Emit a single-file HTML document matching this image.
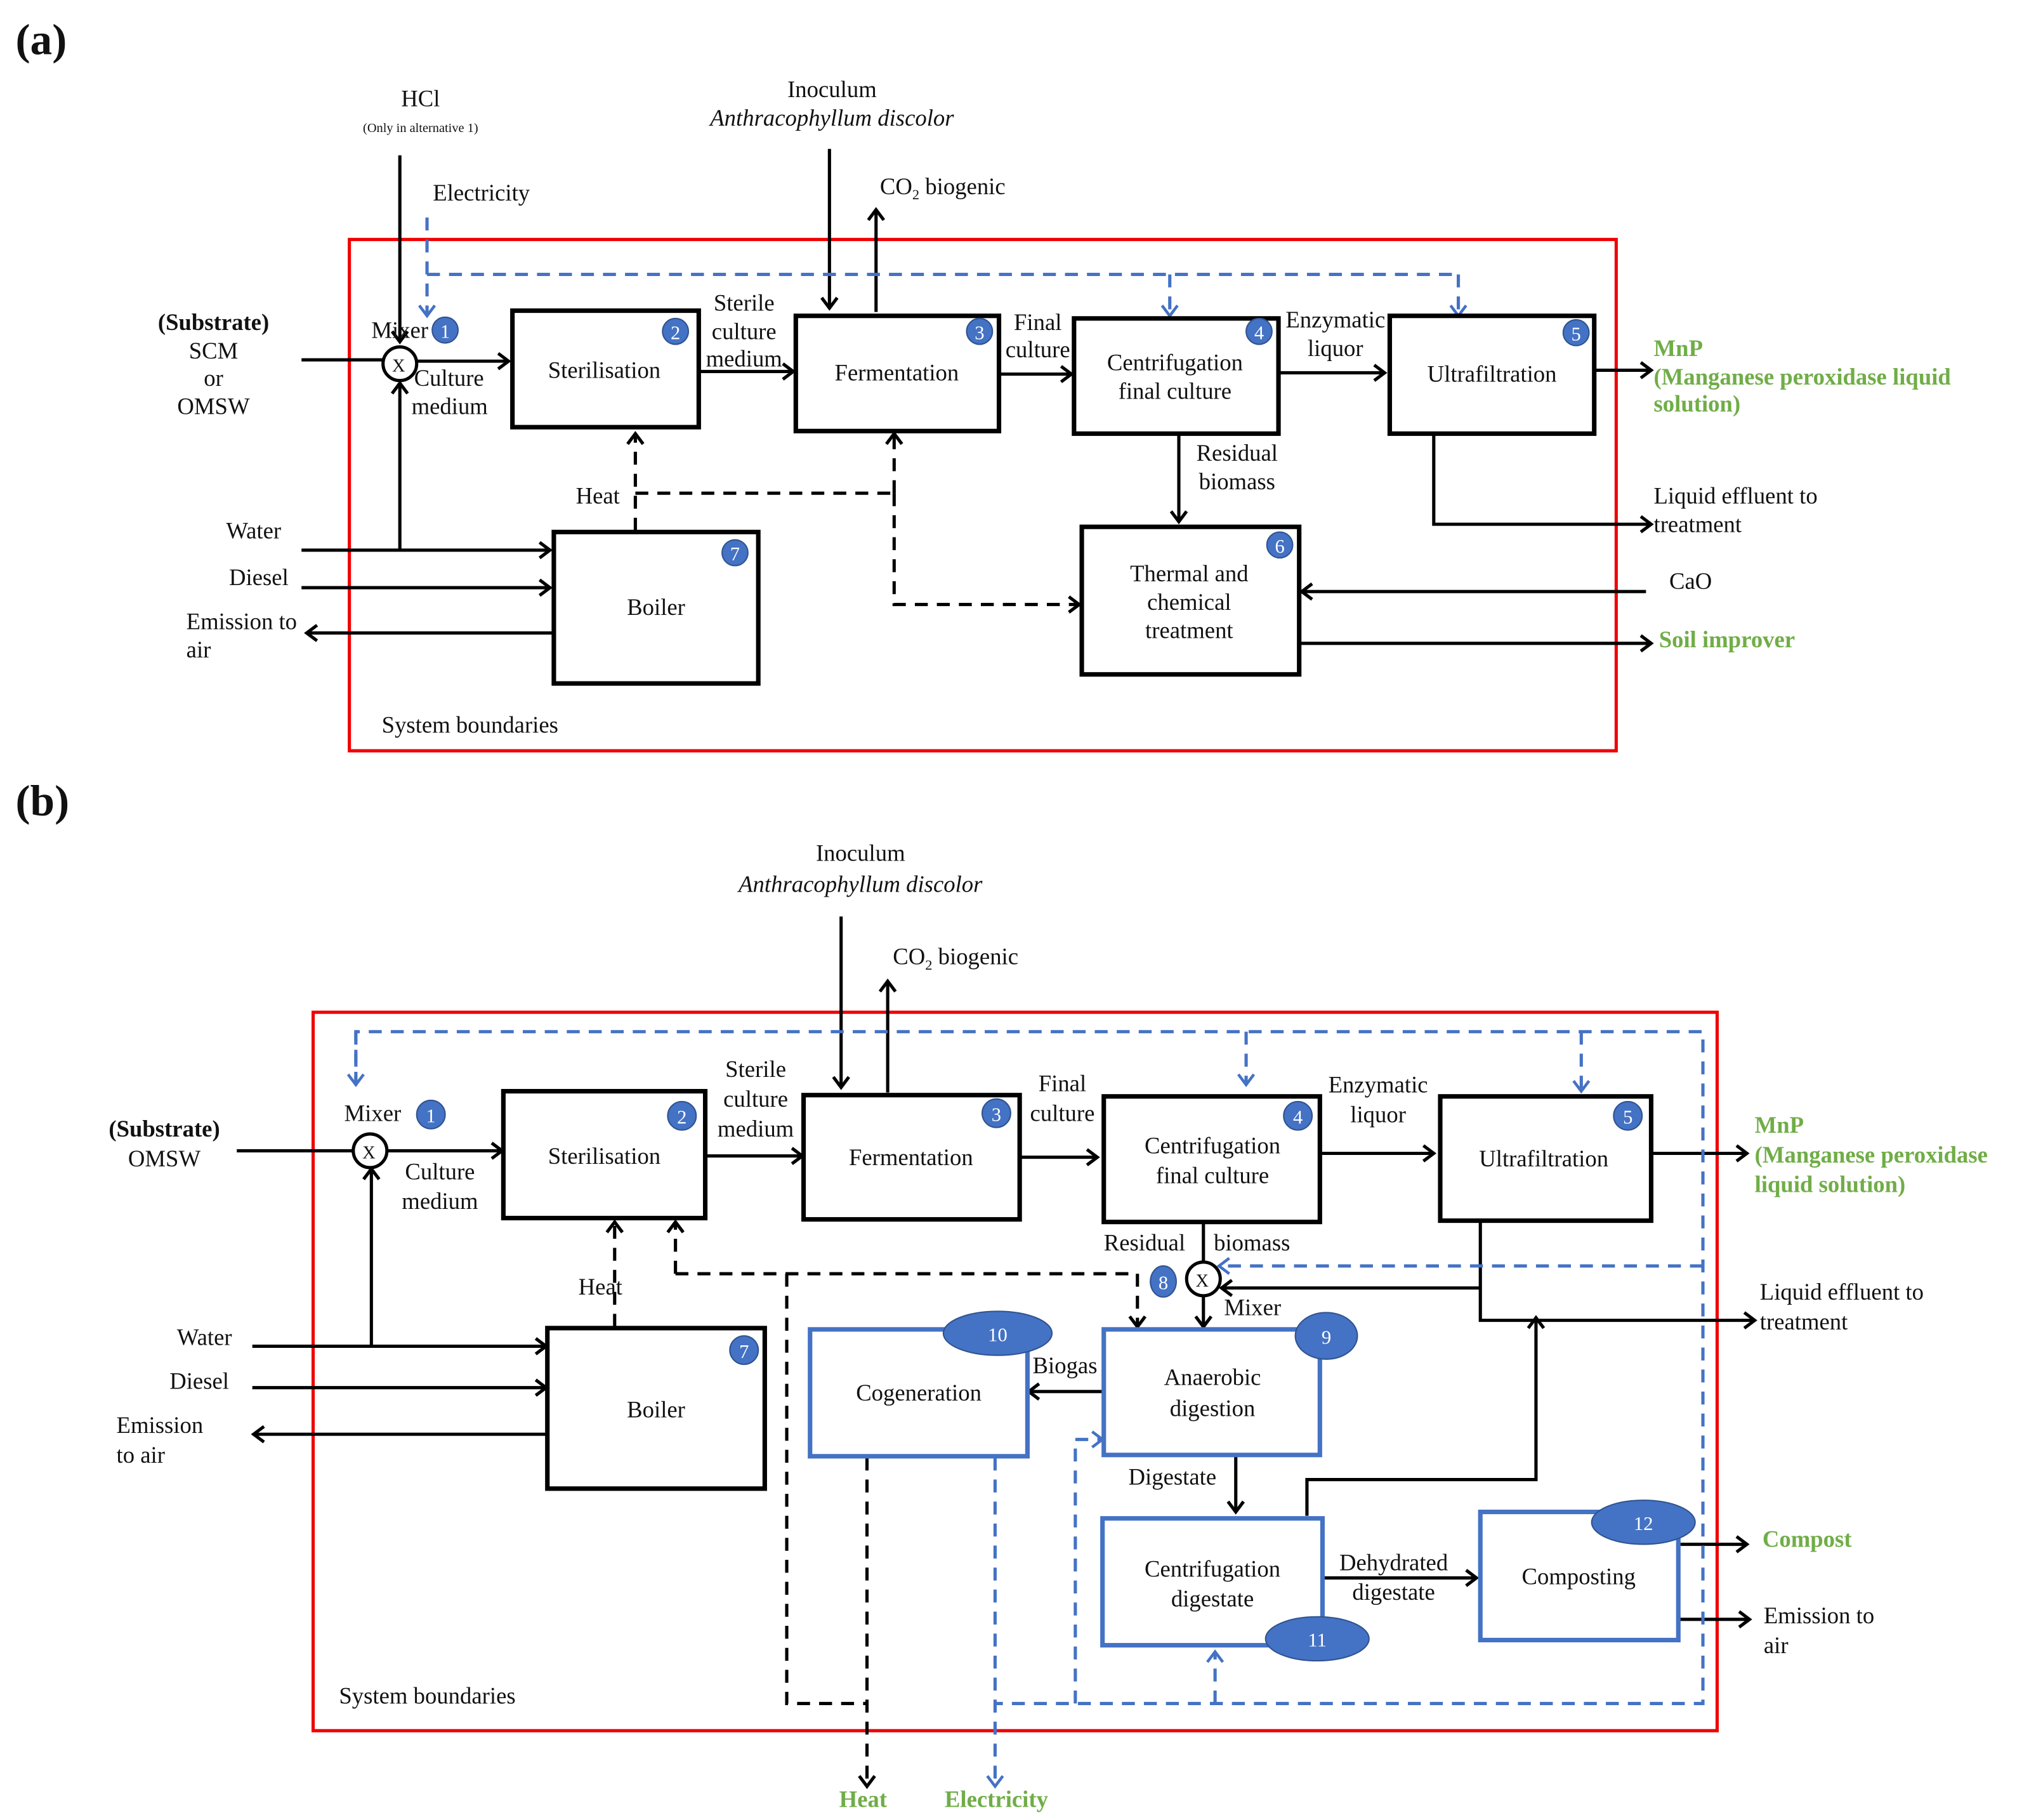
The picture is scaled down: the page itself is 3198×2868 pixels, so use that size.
<!DOCTYPE html>
<html><head><meta charset="utf-8"><style>
html,body{margin:0;padding:0;background:#fff;}
svg{display:block;}
text{font-family:"Liberation Serif",serif;font-size:18px;fill:#111;}
.c{text-anchor:middle;}
.g{fill:#70AD47;font-weight:bold;}
.bt{fill:#fff;font-size:15px;text-anchor:middle;}
</style></head><body>
<svg width="3198" height="2868" viewBox="0 0 1568 1406" preserveAspectRatio="none" xmlns="http://www.w3.org/2000/svg">
<defs>
<marker id="a" markerUnits="userSpaceOnUse" markerWidth="16" markerHeight="16" refX="11" refY="8" orient="auto"><path d="M3,2 L11,8 L3,14" fill="none" stroke="#000" stroke-width="2.5"/></marker>
<marker id="b" markerUnits="userSpaceOnUse" markerWidth="16" markerHeight="16" refX="11" refY="8" orient="auto"><path d="M3,2 L11,8 L3,14" fill="none" stroke="#4472C4" stroke-width="2.2"/></marker>
</defs>
<g fill="none" stroke="#000" stroke-width="2.5">
<!-- ===== (a) ===== -->
<rect x="270" y="185" width="979" height="395" stroke="#f00000" stroke-width="2.5"/>
<line x1="309" y1="120" x2="309" y2="264" marker-end="url(#a)"/>
<line x1="641" y1="115" x2="641" y2="238" marker-end="url(#a)"/>
<line x1="677" y1="241" x2="677" y2="162" marker-end="url(#a)"/>
<line x1="233" y1="278" x2="296" y2="278"/>
<circle cx="309" cy="281" r="13" fill="#fff"/>
<line x1="322" y1="279" x2="393" y2="279" marker-end="url(#a)"/>
<line x1="540" y1="287" x2="613" y2="287" marker-end="url(#a)"/>
<line x1="772" y1="289" x2="828" y2="289" marker-end="url(#a)"/>
<line x1="988" y1="288" x2="1070" y2="288" marker-end="url(#a)"/>
<line x1="1232" y1="286" x2="1276" y2="286" marker-end="url(#a)"/>
<line x1="911" y1="335" x2="911" y2="403" marker-end="url(#a)"/>
<polyline points="1108,335 1108,405 1276,405" marker-end="url(#a)"/>
<line x1="1272" y1="457" x2="1006" y2="457" marker-end="url(#a)"/>
<line x1="1004" y1="497" x2="1276" y2="497" marker-end="url(#a)"/>
<line x1="233" y1="425" x2="425" y2="425" marker-end="url(#a)"/>
<line x1="309" y1="425" x2="309" y2="296" marker-end="url(#a)"/>
<line x1="233" y1="454" x2="425" y2="454" marker-end="url(#a)"/>
<line x1="427" y1="489" x2="237" y2="489" marker-end="url(#a)"/>
<g stroke-dasharray="10,7">
<line x1="491" y1="410" x2="491" y2="335" marker-end="url(#a)"/>
<line x1="491" y1="381" x2="691" y2="381"/>
<line x1="691" y1="381" x2="691" y2="335" marker-end="url(#a)"/>
<polyline points="691,381 691,467 834,467" marker-end="url(#a)"/>
</g>
<g stroke="#4472C4" stroke-dasharray="10,7">
<polyline points="330,168 330,244" marker-end="url(#b)"/>
<line x1="330" y1="212" x2="1127" y2="212"/>
<line x1="904" y1="212" x2="904" y2="244" marker-end="url(#b)"/>
<line x1="1127" y1="212" x2="1127" y2="244" marker-end="url(#b)"/>
</g>
<g stroke-width="3.5">
<rect x="396" y="240" width="144" height="90"/>
<rect x="615" y="244" width="157" height="89"/>
<rect x="830" y="246" width="158" height="89"/>
<rect x="1074" y="244" width="158" height="91"/>
<rect x="836" y="407" width="168" height="114"/>
<rect x="428" y="411" width="158" height="117"/>
</g>
<!-- ===== (b) ===== -->
<rect x="242" y="782" width="1085" height="555" stroke="#f00000" stroke-width="2.5"/>
<line x1="650" y1="708" x2="650" y2="840" marker-end="url(#a)"/>
<line x1="686" y1="844" x2="686" y2="758" marker-end="url(#a)"/>
<line x1="183" y1="889" x2="273" y2="889"/>
<circle cx="286" cy="889" r="13"/>
<line x1="299" y1="889" x2="388" y2="889" marker-end="url(#a)"/>
<line x1="545" y1="893" x2="620" y2="893" marker-end="url(#a)"/>
<line x1="788" y1="894" x2="848" y2="894" marker-end="url(#a)"/>
<line x1="1020" y1="891" x2="1108" y2="891" marker-end="url(#a)"/>
<line x1="1276" y1="891" x2="1350" y2="891" marker-end="url(#a)"/>
<line x1="930" y1="944" x2="930" y2="975"/>
<circle cx="930" cy="988" r="13"/>
<line x1="930" y1="1001" x2="930" y2="1025" marker-end="url(#a)"/>
<polyline points="1144,943 1144,1020 1356,1020" marker-end="url(#a)"/>
<line x1="1144" y1="995" x2="944" y2="995" marker-end="url(#a)"/>
<polyline points="1010,1171 1010,1143 1187,1143 1187,1018" marker-end="url(#a)"/>
<line x1="853" y1="1075" x2="795" y2="1075" marker-end="url(#a)"/>
<line x1="955" y1="1125" x2="955" y2="1168" marker-end="url(#a)"/>
<line x1="1022" y1="1219" x2="1141" y2="1219" marker-end="url(#a)"/>
<line x1="1297" y1="1193" x2="1350" y2="1193" marker-end="url(#a)"/>
<line x1="1297" y1="1251" x2="1352" y2="1251" marker-end="url(#a)"/>
<line x1="195" y1="1040" x2="422" y2="1040" marker-end="url(#a)"/>
<line x1="287" y1="1040" x2="287" y2="903" marker-end="url(#a)"/>
<line x1="195" y1="1072" x2="422" y2="1072" marker-end="url(#a)"/>
<line x1="423" y1="1108" x2="196" y2="1108" marker-end="url(#a)"/>
<g stroke-dasharray="10,7">
<line x1="475" y1="1025" x2="475" y2="944" marker-end="url(#a)"/>
<line x1="522" y1="984" x2="879" y2="984"/>
<line x1="879" y1="984" x2="879" y2="1025" marker-end="url(#a)"/>
<line x1="522" y1="984" x2="522" y2="944" marker-end="url(#a)"/>
<polyline points="608,984 608,1316 670,1316"/>
<line x1="670" y1="1126" x2="670" y2="1380" marker-end="url(#a)"/>
</g>
<g stroke="#4472C4" stroke-dasharray="10,7">
<polyline points="275,838 275,797 1316,797 1316,1316 770,1316"/>
<line x1="275" y1="797" x2="275" y2="838" marker-end="url(#b)"/>
<line x1="963" y1="797" x2="963" y2="838" marker-end="url(#b)"/>
<line x1="1222" y1="797" x2="1222" y2="843" marker-end="url(#b)"/>
<line x1="1316" y1="978" x2="942" y2="978" marker-end="url(#b)"/>
<polyline points="831,1316 831,1112 852,1112" marker-end="url(#b)"/>
<line x1="939" y1="1316" x2="939" y2="1276" marker-end="url(#b)"/>
<line x1="769" y1="1126" x2="769" y2="1380" marker-end="url(#b)"/>
</g>
<g stroke-width="3.5">
<rect x="389" y="843" width="156" height="98"/>
<rect x="621" y="846" width="167" height="96"/>
<rect x="853" y="847" width="167" height="97"/>
<rect x="1113" y="847" width="163" height="96"/>
<rect x="423" y="1026" width="168" height="124"/>
</g>
<g stroke="#4472C4" stroke-width="3.5">
<rect x="626" y="1027" width="168" height="98"/>
<rect x="853" y="1027" width="167" height="97"/>
<rect x="852" y="1173" width="170" height="98"/>
<rect x="1144" y="1168" width="153" height="99"/>
</g>
</g>
<!-- badges -->
<g fill="#4472C4" stroke="#2f528f" stroke-width="1">
<circle cx="344" cy="255" r="10"/><circle cx="522" cy="256" r="10"/><circle cx="757" cy="256" r="10"/>
<circle cx="973" cy="256" r="10"/><circle cx="1218" cy="257" r="10"/><circle cx="989" cy="421" r="10"/><circle cx="568" cy="427" r="10"/>
<circle cx="333" cy="861" r="11"/><circle cx="527" cy="862" r="11"/><circle cx="770" cy="860" r="11"/>
<circle cx="1003" cy="862" r="11"/><circle cx="1258" cy="862" r="11"/><circle cx="575" cy="1043" r="11"/>
<ellipse cx="899" cy="990" rx="10" ry="12"/>
<ellipse cx="1025" cy="1032" rx="24" ry="18"/>
<ellipse cx="771" cy="1030" rx="42" ry="17"/>
<ellipse cx="1018" cy="1266" rx="40" ry="17"/>
<ellipse cx="1270" cy="1176" rx="40" ry="17"/>
</g>
<g class="bt">
<text x="344" y="261" class="bt">1</text><text x="522" y="262" class="bt">2</text><text x="757" y="262" class="bt">3</text>
<text x="973" y="262" class="bt">4</text><text x="1218" y="263" class="bt">5</text><text x="989" y="427" class="bt">6</text><text x="568" y="433" class="bt">7</text>
<text x="333" y="867" class="bt">1</text><text x="527" y="868" class="bt">2</text><text x="770" y="866" class="bt">3</text>
<text x="1003" y="868" class="bt">4</text><text x="1258" y="868" class="bt">5</text><text x="575" y="1049" class="bt">7</text>
<text x="899" y="996" class="bt">8</text><text x="1025" y="1038" class="bt">9</text><text x="771" y="1036" class="bt">10</text>
<text x="1018" y="1272" class="bt">11</text><text x="1270" y="1182" class="bt">12</text>
</g>
<!-- text (a) -->
<text x="12" y="42" style="font-size:34px;font-weight:bold">(a)</text>
<text x="325" y="82" class="c">HCl</text>
<text x="325" y="102" class="c" style="font-size:10px">(Only in alternative  1)</text>
<text x="372" y="155" class="c">Electricity</text>
<text x="643" y="75" class="c">Inoculum</text>
<text x="643" y="97" class="c" style="font-style:italic">Anthracophyllum discolor</text>
<text x="680" y="150">CO<tspan style="font-size:11px" dy="4">2</tspan><tspan dy="-4"> biogenic</tspan></text>
<text x="165" y="255" class="c" style="font-weight:bold">(Substrate)</text>
<text x="165" y="277" class="c">SCM</text><text x="165" y="298" class="c">or</text><text x="165" y="320" class="c">OMSW</text>
<text x="287" y="261">Mixer</text>
<text x="303" y="287" style="font-size:14px">X</text>
<text x="320" y="298">Culture</text><text x="318" y="320">medium</text>
<text x="467" y="292" class="c">Sterilisation</text>
<text x="575" y="240" class="c">Sterile</text><text x="575" y="262" class="c">culture</text><text x="575" y="283" class="c">medium</text>
<text x="693" y="294" class="c">Fermentation</text>
<text x="802" y="255" class="c">Final</text><text x="802" y="276" class="c">culture</text>
<text x="908" y="286" class="c">Centrifugation</text><text x="908" y="308" class="c">final culture</text>
<text x="1032" y="253" class="c">Enzymatic</text><text x="1032" y="275" class="c">liquor</text>
<text x="1153" y="295" class="c">Ultrafiltration</text>
<text x="1278" y="275" class="g">MnP</text>
<text x="1278" y="297" class="g">(Manganese peroxidase liquid</text>
<text x="1278" y="318" class="g">solution)</text>
<text x="956" y="356" class="c">Residual</text><text x="956" y="378" class="c">biomass</text>
<text x="1278" y="389">Liquid effluent to</text><text x="1278" y="411">treatment</text>
<text x="919" y="449" class="c">Thermal and</text><text x="919" y="471" class="c">chemical</text><text x="919" y="493" class="c">treatment</text>
<text x="1290" y="455">CaO</text>
<text x="1282" y="500" class="g">Soil improver</text>
<text x="445" y="389">Heat</text>
<text x="196" y="416" class="c">Water</text>
<text x="200" y="452" class="c">Diesel</text>
<text x="144" y="486">Emission to</text><text x="144" y="508">air</text>
<text x="507" y="475" class="c">Boiler</text>
<text x="295" y="566">System boundaries</text>
<!-- text (b) -->
<text x="12" y="630" style="font-size:34px;font-weight:bold">(b)</text>
<text x="665" y="665" class="c">Inoculum</text>
<text x="665" y="689" class="c" style="font-style:italic">Anthracophyllum discolor</text>
<text x="690" y="745">CO<tspan style="font-size:11px" dy="4">2</tspan><tspan dy="-4"> biogenic</tspan></text>
<text x="127" y="878" class="c" style="font-weight:bold">(Substrate)</text>
<text x="127" y="901" class="c">OMSW</text>
<text x="266" y="866">Mixer</text>
<text x="280" y="895" style="font-size:14px">X</text>
<text x="340" y="911" class="c">Culture</text><text x="340" y="934" class="c">medium</text>
<text x="467" y="899" class="c">Sterilisation</text>
<text x="584" y="832" class="c">Sterile</text><text x="584" y="855" class="c">culture</text><text x="584" y="878" class="c">medium</text>
<text x="704" y="900" class="c">Fermentation</text>
<text x="821" y="843" class="c">Final</text><text x="821" y="866" class="c">culture</text>
<text x="937" y="891" class="c">Centrifugation</text><text x="937" y="914" class="c">final culture</text>
<text x="1065" y="844" class="c">Enzymatic</text><text x="1065" y="867" class="c">liquor</text>
<text x="1193" y="901" class="c">Ultrafiltration</text>
<text x="1356" y="875" class="g">MnP</text>
<text x="1356" y="898" class="g">(Manganese peroxidase</text>
<text x="1356" y="921" class="g">liquid  solution)</text>
<text x="853" y="966">Residual</text><text x="938" y="966">biomass</text>
<text x="924" y="994" style="font-size:14px">X</text>
<text x="946" y="1016">Mixer</text>
<text x="1360" y="1004">Liquid effluent to</text><text x="1360" y="1027">treatment</text>
<text x="710" y="1082" class="c">Cogeneration</text>
<text x="823" y="1061" class="c">Biogas</text>
<text x="937" y="1070" class="c">Anaerobic</text><text x="937" y="1094" class="c">digestion</text>
<text x="906" y="1147" class="c">Digestate</text>
<text x="937" y="1218" class="c">Centrifugation</text><text x="937" y="1241" class="c">digestate</text>
<text x="1077" y="1213" class="c">Dehydrated</text><text x="1077" y="1236" class="c">digestate</text>
<text x="1220" y="1224" class="c">Composting</text>
<text x="1362" y="1195" class="g">Compost</text>
<text x="1363" y="1254">Emission to</text><text x="1363" y="1277">air</text>
<text x="447" y="1000">Heat</text>
<text x="158" y="1039" class="c">Water</text>
<text x="154" y="1073" class="c">Diesel</text>
<text x="90" y="1107">Emission</text><text x="90" y="1130">to air</text>
<text x="507" y="1095" class="c">Boiler</text>
<text x="262" y="1316">System boundaries</text>
<text x="667" y="1396" class="c g">Heat</text>
<text x="770" y="1396" class="c g">Electricity</text>
</svg>
</body></html>
